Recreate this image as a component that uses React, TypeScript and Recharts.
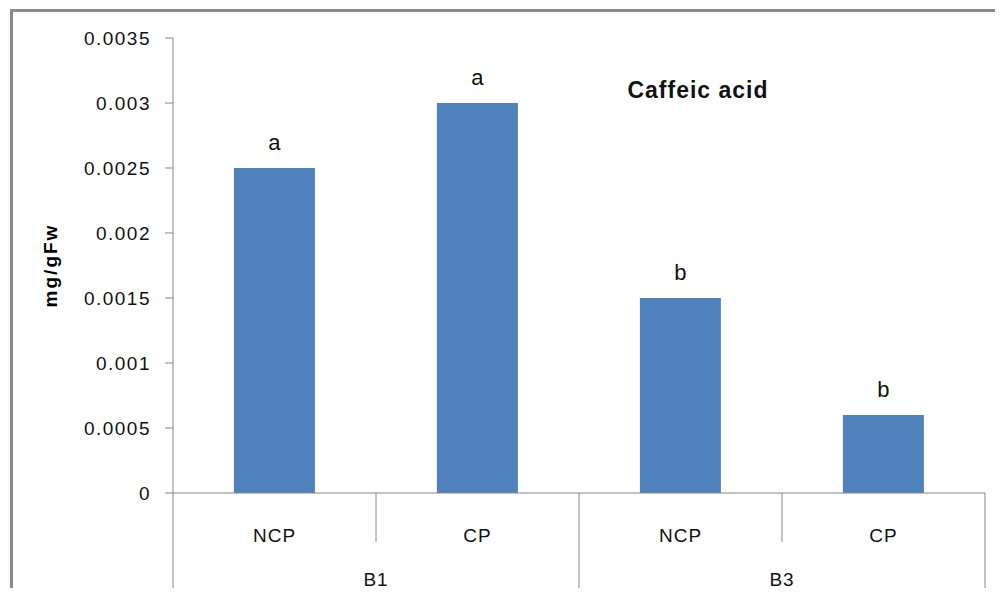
import { BarChart, Bar, XAxis, YAxis, LabelList } from "recharts";

const categories = ["NCP", "CP", "NCP", "CP"];
const groupLabels = ["B1", "B3"];
const values = [0.0025, 0.003, 0.0015, 0.0006];
const letters = ["a", "a", "b", "b"];
const yTicks = [0, 0.0005, 0.001, 0.0015, 0.002, 0.0025, 0.003, 0.0035];

const data = categories.map((name, i) => ({
  name,
  value: values[i],
  letter: letters[i],
}));

const FONT = "'Liberation Sans', Arial, sans-serif";
const AXIS = "#868686";

// two-level category axis: treatment on the first row, block on the second
const CategoryTick = (props: any) => {
  const { x, y, payload, index } = props;
  const half = payload.offset ?? 0;
  const right = x + half;
  const groupEnd = index % 2 === 1;
  return (
    <g>
      {index === 0 && (
        <line x1={x - half} y1={y} x2={x - half} y2={y + 99} stroke={AXIS} />
      )}
      <line x1={right} y1={y} x2={right} y2={y + (groupEnd ? 99 : 49)} stroke={AXIS} />
      <text
        x={x}
        y={y + 42}
        textAnchor="middle"
        dominantBaseline="central"
        fontSize={19}
        letterSpacing={1}
        fontFamily={FONT}
        fill="#111"
      >
        {payload.value}
      </text>
      {index % 2 === 0 && (
        <text
          x={right}
          y={y + 86}
          textAnchor="middle"
          dominantBaseline="central"
          fontSize={19}
          letterSpacing={1}
          fontFamily={FONT}
          fill="#111"
        >
          {groupLabels[index / 2]}
        </text>
      )}
    </g>
  );
};

const YTitle = (props: any) => {
  const { viewBox } = props;
  const cx = viewBox.x - 16;
  const cy = viewBox.y + viewBox.height / 2;
  return (
    <text
      x={cx}
      y={cy}
      transform={`rotate(-90, ${cx}, ${cy})`}
      textAnchor="middle"
      fontSize={19}
      fontWeight="bold"
      letterSpacing={2}
      fontFamily={FONT}
      fill="#000"
    >
      mg/gFw
    </text>
  );
};

export default function App() {
  return (
    <div style={{ position: "relative", width: 990, height: 580 }}>
      <div
        style={{
          position: "absolute",
          left: 2,
          top: 1,
          width: 990,
          height: 580,
          borderTop: "3px solid #8a8a8a",
          borderLeft: "3px solid #8a8a8a",
          boxSizing: "border-box",
        }}
      />
      <BarChart
        width={990}
        height={585}
        data={data}
        margin={{ top: 30, right: 13, bottom: 5, left: 65 }}
        barCategoryGap="30%"
      >
        <XAxis
          dataKey="name"
          interval={0}
          height={95}
          tickLine={false}
          tickSize={0}
          tickMargin={0}
          axisLine={{ stroke: AXIS }}
          tick={CategoryTick}
        />
        <YAxis
          width={100}
          domain={[0, 0.0035]}
          ticks={yTicks}
          interval={0}
          tickSize={8}
          tickMargin={14}
          tickFormatter={(v: number) => String(v)}
          axisLine={{ stroke: AXIS }}
          tickLine={{ stroke: AXIS }}
          tick={{ fontSize: 19, fill: "#111", fontFamily: FONT, letterSpacing: 1.5 }}
          label={{ content: YTitle }}
        />
        <Bar dataKey="value" fill="#4F81BD" isAnimationActive={false}>
          <LabelList
            dataKey="letter"
            position="top"
            offset={18}
            fontSize={22}
            fontFamily={FONT}
            fill="#111"
          />
        </Bar>
        <text
          x={690}
          y={82}
          textAnchor="middle"
          dominantBaseline="central"
          fontSize={23}
          fontWeight="bold"
          letterSpacing={1}
          fontFamily={FONT}
          fill="#111"
        >
          Caffeic acid
        </text>
      </BarChart>
    </div>
  );
}
